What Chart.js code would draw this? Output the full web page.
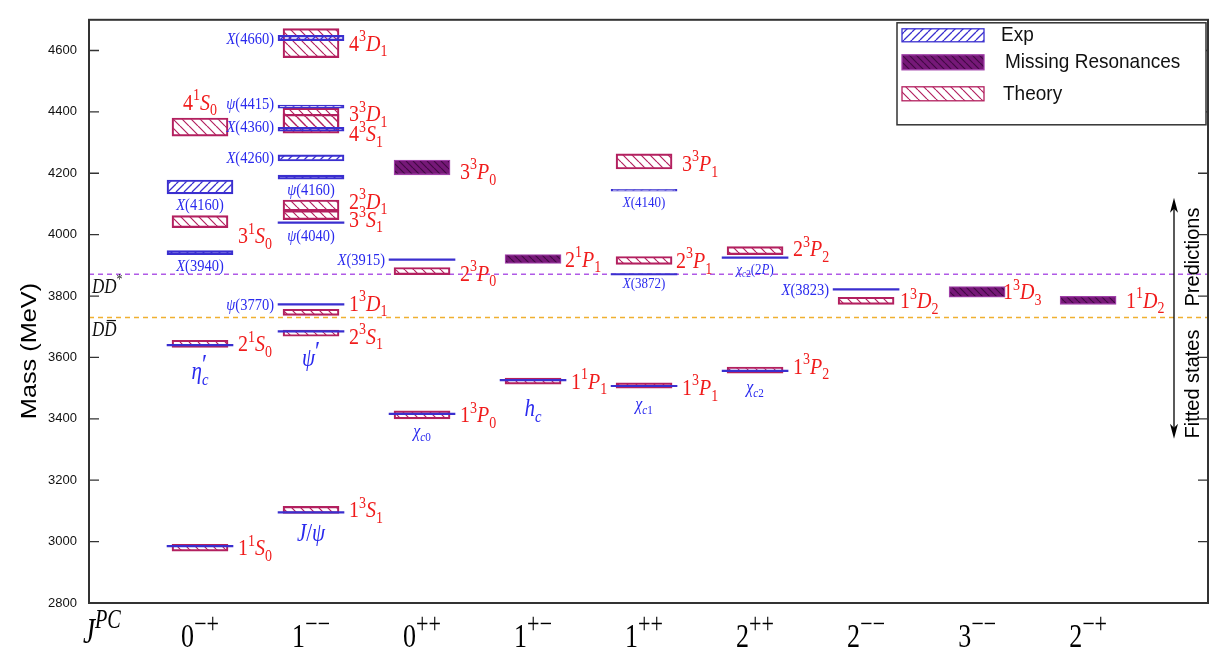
<!DOCTYPE html>
<html>
<head>
<meta charset="utf-8">
<script src="https://cdn.jsdelivr.net/npm/chart.js@4.4.1/dist/chart.umd.min.js"></script>
<style>
  html, body { margin: 0; padding: 0; background: #fff; overflow: hidden; }
</style>
</head>
<body>
<canvas id="spectrum" width="1211" height="667"></canvas>
<script>
// J^PC columns along the bottom
const jpcLabels = ['0^{−+}', '1^{−−}', '0^{++}', '1^{+−}', '1^{++}', '2^{++}', '2^{−−}', '3^{−−}', '2^{−+}'];
const massMin = 2800, massMax = 4700, massStep = 200;

// theory bands (MeV)
const theoryNames = ['1^1S_0', '2^1S_0', '3^1S_0', '4^1S_0', '1^3S_1', '2^3S_1', '1^3D_1', '3^3S_1', '2^3D_1', '4^3S_1', '3^3D_1', '4^3D_1', '1^3P_0', '2^3P_0', '1^1P_1', '1^3P_1', '2^3P_1', '3^3P_1', '1^3P_2', '2^3P_2', '1^3D_2'];
const theoryCol  = [1, 1, 1, 1, 2, 2, 2, 2, 2, 2, 2, 2, 3, 3, 4, 5, 5, 5, 6, 6, 7];
const theoryLow  = [2969, 3633, 4023, 4321, 3092, 3669, 3737, 4049, 4078, 4331, 4344, 4577, 3400, 3870, 3513, 3500, 3903, 4214, 3549, 3935, 3773];
const theoryHigh = [2991, 3656, 4062, 4380, 3115, 3689, 3757, 4078, 4113, 4392, 4412, 4671, 3426, 3893, 3533, 3517, 3929, 4263, 3569, 3961, 3796];

// predicted states without an experimental candidate
const missingNames = ['3^3P_0', '2^1P_1', '1^3D_3', '1^1D_2'];
const missingCol  = [3, 4, 8, 9];
const missingLow  = [4195, 3906, 3796, 3773];
const missingHigh = [4243, 3935, 3831, 3799];

// experimental states drawn with their width
const expNames = ['X(3940)', 'X(4160)', 'X(4660)', 'ψ(4415)', 'X(4360)', 'X(4260)', 'ψ(4160)', 'X(4140)'];
const expCol  = [1, 1, 2, 2, 2, 2, 2, 5];
const expLow  = [3935, 4133, 4632, 4412, 4337, 4240, 4181, 4142];
const expHigh = [3948, 4178, 4649, 4422, 4350, 4260, 4194, 4148];

// narrow experimental states (single lines)
const lineNames = ['', 'η^{′}_c', 'J/ψ', 'ψ^{′}', 'ψ(3770)', 'ψ(4040)', 'χ_{c0}', 'X(3915)', 'h_c', 'χ_{c1}', 'X(3872)', 'χ_{c2}', 'χ_{c2}(2P)', 'X(3823)'];
const lineCol  = [1, 1, 2, 2, 2, 2, 3, 3, 4, 5, 5, 6, 6, 7];
const lineMass = [2985, 3640, 3095, 3685, 3773, 4039, 3416, 3919, 3526, 3507, 3871, 3556, 3925, 3822];

// open charm thresholds
const thresholdNames = ['DD^*', 'DD\u0304'];
const thresholdMass = [3871, 3730];

const BLUE = '#3a2fcf', BLUE_TXT = '#2a2aee', RED_TXT = '#f01c1c';
const CRIMSON = '#b3205f', PURPLE = '#761878';

// where labels go when not the default spot
const labelTweaks = {
  '3^1S_0': { dy: 14 }, '4^1S_0': { side: 'a', dy: -25 }, '2^3S_1': { dy: 3 },
  '1^3D_1': { dy: -9 }, '4^3S_1': { dy: 10 }, '3^3D_1': { dy: -5 }, '2^3D_1': { dy: -4 }, '3^3S_1': { dy: 4 },
  '2^3P_0': { dy: 2 }, '1^3P_1': { dy: 2 }, '2^3P_1': { dx: -6 }, '3^3P_1': { dy: 2 },
  '1^3P_2': { dy: -4 }, '2^3P_2': { dy: -2 }, '1^3D_2': { dx: -4 },
  '3^3P_0': { dy: 4 }, '2^1P_1': { dx: -6 }, '1^3D_3': { dx: -12 },
  'X(4660)': { side: 'l' }, 'ψ(4415)': { side: 'l', dy: -3 }, 'X(4360)': { side: 'l', dy: -3 },
  'X(4260)': { side: 'l' }, 'ψ(3770)': { side: 'l' }, 'X(3915)': { side: 'l' }, 'X(3823)': { side: 'l' },
  'ψ(4160)': { dy: 12 }, 'X(4160)': { dy: 18 }, 'X(3940)': { dy: 13 }, 'ψ(4040)': { dy: 13 },
  'X(4140)': { dy: 12, size: 13 }, 'X(3872)': { dy: 9, size: 13 }, 'χ_{c2}(2P)': { dy: 11, size: 13 },
  'η^{′}_c': { dy: 26, size: 21 }, 'ψ^{′}': { dy: 27, size: 21 }, 'J/ψ': { dy: 21, size: 21 }, 'h_c': { dy: 28, size: 21 },
  'χ_{c0}': { dy: 17, size: 16 }, 'χ_{c1}': { dy: 18, size: 16 }, 'χ_{c2}': { dy: 16, size: 16 }
};

const canvas = document.getElementById('spectrum');
const ctx = canvas.getContext('2d');

function hatch(stroke, dir, fill, n, lw) {
  const c = document.createElement('canvas');
  c.width = n; c.height = n;
  const g = c.getContext('2d');
  if (fill) { g.fillStyle = fill; g.fillRect(0, 0, n, n); }
  g.strokeStyle = stroke;
  g.lineWidth = lw;
  g.beginPath();
  for (const o of [-n, 0, n]) {
    if (dir > 0) { g.moveTo(o, n); g.lineTo(o + n, 0); }
    else { g.moveTo(o, 0); g.lineTo(o + n, n); }
  }
  g.stroke();
  return ctx.createPattern(c, 'repeat');
}

const expHatch = hatch(BLUE, 1, null, 8, 1.3);
const theoryHatch = hatch(CRIMSON, -1, null, 9, 1.2);
const missingHatch = hatch('#420a44', -1, PURPLE, 7, 1.2);

// tiny TeX-ish text: ^{..} superscript, _{..} subscript, letters italic
function mathRuns(s) {
  const runs = [];
  let i = 0;
  while (i < s.length) {
    const c = s[i];
    if (c === '^' || c === '_') {
      let t;
      if (s[i + 1] === '{') { const j = s.indexOf('}', i); t = s.slice(i + 2, j); i = j + 1; }
      else { t = s[i + 1]; i += 2; }
      runs.push({ t, lvl: c === '^' ? 1 : -1 });
    } else {
      let j = i;
      while (j < s.length && s[j] !== '^' && s[j] !== '_') j++;
      runs.push({ t: s.slice(i, j), lvl: 0 });
      i = j;
    }
  }
  return runs;
}

function fontFor(ch, size) {
  const ital = /[A-Za-zα-ωΑ-Ω]/.test(ch);
  return (ital ? 'italic ' : '') + size + 'px "Liberation Serif"';
}

function drawMath(c, str, x, y, o) {
  const size = o.size, sx = o.sx || 1, sy = o.sy || 1.15, sup = o.sup || 0.7;
  const glyphs = [];
  let cur = 0, prev = null;
  for (const run of mathRuns(str)) {
    const s = run.lvl ? size * sup : size;
    const dy = run.lvl === 1 ? -size * 0.42 : run.lvl === -1 ? size * 0.24 : 0;
    const start = (run.lvl && prev && prev.lvl === -run.lvl) ? prev.start : cur;
    let gx = start;
    for (const ch of Array.from(run.t)) {
      if (ch === '\u0304') { if (glyphs.length) glyphs[glyphs.length - 1].bar = true; continue; }
      const gs = ch === '′' ? s * 1.6 : s;
      const font = fontFor(ch, gs);
      c.font = font;
      const w = c.measureText(ch).width;
      glyphs.push({ ch, font, x: gx, y: ch === '′' ? dy + s * 0.25 : dy, w, s: gs });
      gx += w;
    }
    cur = Math.max(cur, gx);
    prev = { lvl: run.lvl, start };
  }
  let x0 = x;
  if (o.align === 'center') x0 = x - cur * sx / 2;
  else if (o.align === 'right') x0 = x - cur * sx;
  const base = o.base ? y : y + size * 0.33 * sy;
  c.save();
  c.translate(x0, base);
  c.scale(sx, sy);
  c.fillStyle = o.color;
  c.textAlign = 'left';
  c.textBaseline = 'alphabetic';
  for (const g of glyphs) {
    c.font = g.font;
    c.fillText(g.ch, g.x, g.y);
    if (g.bar) c.fillRect(g.x + g.w * 0.2, g.y - g.s * 0.8, g.w * 0.75, Math.max(1, g.s * 0.055));
  }
  c.restore();
}

function bars(cols, lows, highs) {
  return cols.map((col, i) => ({ x: col, y: [lows[i], highs[i]] }));
}
function segments(cols, masses, half) {
  const pts = [];
  cols.forEach((col, i) => {
    pts.push({ x: col - half, y: masses[i] }, { x: col + half, y: masses[i] }, { x: col, y: null });
  });
  return pts;
}

const X_MAX = 10.08;

const labelSets = [
  { names: theoryNames, cols: theoryCol, mid: i => (theoryLow[i] + theoryHigh[i]) / 2, side: 'r', color: RED_TXT, size: 20 },
  { names: missingNames, cols: missingCol, mid: i => (missingLow[i] + missingHigh[i]) / 2, side: 'r', color: RED_TXT, size: 20 },
  { names: expNames, cols: expCol, mid: i => (expLow[i] + expHigh[i]) / 2, side: 'b', color: BLUE_TXT, size: 14.5 },
  { names: lineNames, cols: lineCol, mid: i => lineMass[i], side: 'b', color: BLUE_TXT, size: 14.5 }
];

const decorations = {
  id: 'decorations',
  afterDatasetsDraw(chart) {
    const c = chart.ctx, ca = chart.chartArea;
    const xs = chart.scales.x, ys = chart.scales.y;

    // frame and inner ticks
    c.save();
    c.strokeStyle = '#333';
    c.lineWidth = 2;
    c.strokeRect(ca.left, ca.top, ca.right - ca.left, ca.bottom - ca.top);
    c.lineWidth = 1.3;
    c.beginPath();
    for (let v = massMin + massStep; v < massMax; v += massStep) {
      const py = ys.getPixelForValue(v);
      c.moveTo(ca.left, py); c.lineTo(ca.left + 10, py);
      c.moveTo(ca.right, py); c.lineTo(ca.right - 10, py);
    }
    c.stroke();
    c.restore();

    // state labels
    for (const set of labelSets) {
      set.names.forEach((name, i) => {
        if (!name) return;
        const tw = labelTweaks[name] || {};
        const side = tw.side || set.side;
        const t = Object.assign({ side, dx: 0, dy: side === 'b' ? 13 : 0, size: set.size }, tw);
        const px = xs.getPixelForValue(set.cols[i]);
        const py = ys.getPixelForValue(set.mid(i)) + t.dy;
        const o = { size: t.size, color: set.color };
        if (t.side === 'r') drawMath(c, name, px + 38 + t.dx, py, Object.assign(o, { align: 'left' }));
        else if (t.side === 'l') drawMath(c, name, px - 37 + t.dx, py, Object.assign(o, { align: 'right' }));
        else drawMath(c, name, px + t.dx, py, Object.assign(o, { align: 'center' }));
      });
    }

    // threshold names
    thresholdNames.forEach((name, i) => {
      drawMath(c, name, ca.left + 3, ys.getPixelForValue(thresholdMass[i]) + 12, { size: 17, color: '#111', align: 'left', sy: 1.2 });
    });

    // J^PC row
    drawMath(c, 'J^{PC}', ca.left - 6, 643, { size: 27, color: '#000', align: 'left', base: true, sy: 1.3, sup: 0.75 });
    jpcLabels.forEach((lab, k) => {
      drawMath(c, lab, xs.getPixelForValue(k + 1), 647, { size: 26, color: '#000', align: 'center', base: true, sy: 1.3, sup: 0.85 });
    });

    // axis title
    c.save();
    c.translate(30, 351);
    c.rotate(-Math.PI / 2);
    c.scale(1.15, 1);
    c.font = '22px "Liberation Sans"';
    c.fillStyle = '#000';
    c.textAlign = 'center';
    c.textBaseline = 'middle';
    c.fillText('Mass (MeV)', 0, 0);
    c.restore();

    // predictions / fitted states arrow
    const ax = ca.right - 34;
    const top = ys.getPixelForValue(4120), bot = ys.getPixelForValue(3335);
    c.save();
    c.strokeStyle = '#000';
    c.fillStyle = '#000';
    c.lineWidth = 1.3;
    c.beginPath(); c.moveTo(ax, top + 4); c.lineTo(ax, bot - 4); c.stroke();
    c.beginPath(); c.moveTo(ax, top); c.lineTo(ax - 4, top + 15); c.lineTo(ax, top + 11); c.lineTo(ax + 4, top + 15); c.closePath(); c.fill();
    c.beginPath(); c.moveTo(ax, bot); c.lineTo(ax - 4, bot - 15); c.lineTo(ax, bot - 11); c.lineTo(ax + 4, bot - 15); c.closePath(); c.fill();
    c.font = '20px "Liberation Sans"';
    c.textAlign = 'center';
    c.textBaseline = 'middle';
    c.translate(ca.right - 15, 0);
    c.rotate(-Math.PI / 2);
    c.fillText('Predictions', -257, 0);
    c.fillText('Fitted states', -384, 0);
    c.restore();
  },
  afterDraw(chart) {
    const c = chart.ctx, ca = chart.chartArea;
    const lx = ca.right - 311, ly = ca.top + 3, lw = 309, lh = 102;
    c.save();
    c.fillStyle = '#fff';
    c.fillRect(lx, ly, lw, lh);
    c.strokeStyle = '#333';
    c.lineWidth = 1.5;
    c.strokeRect(lx, ly, lw, lh);
    const items = [
      { text: 'Exp', fill: expHatch, edge: BLUE, y: 6, h: 13, tx: 104 },
      { text: 'Missing Resonances', fill: missingHatch, edge: '#a040a8', y: 32, h: 15, tx: 108 },
      { text: 'Theory', fill: theoryHatch, edge: CRIMSON, y: 64, h: 14, tx: 106 }
    ];
    for (const it of items) {
      c.fillStyle = it.fill;
      c.fillRect(lx + 5, ly + it.y, 82, it.h);
      c.strokeStyle = it.edge;
      c.lineWidth = 1.3;
      c.strokeRect(lx + 5, ly + it.y, 82, it.h);
      c.save();
      c.translate(lx + it.tx, ly + it.y + it.h / 2);
      c.scale(1, 1.1);
      c.fillStyle = '#111';
      c.font = '19px "Liberation Sans"';
      c.textBaseline = 'middle';
      c.fillText(it.text, 0, 0);
      c.restore();
    }
    c.restore();
  }
};

new Chart(ctx, {
  type: 'bar',
  data: {
    datasets: [
      {
        type: 'line', label: 'Exp lines', data: segments(lineCol, lineMass, 0.3),
        borderColor: BLUE, borderWidth: 2.2, pointRadius: 0, spanGaps: false, fill: false, order: 0
      },
      {
        label: 'Exp', data: bars(expCol, expLow, expHigh), backgroundColor: expHatch,
        borderColor: BLUE, borderWidth: 1.5, borderSkipped: false, barThickness: 66, grouped: false, order: 1
      },
      {
        label: 'Missing Resonances', data: bars(missingCol, missingLow, missingHigh), backgroundColor: missingHatch,
        borderColor: '#a040a8', borderWidth: 1.3, borderSkipped: false, barThickness: 56, grouped: false, order: 2
      },
      {
        label: 'Theory', data: bars(theoryCol, theoryLow, theoryHigh), backgroundColor: theoryHatch,
        borderColor: CRIMSON, borderWidth: 1.5, borderSkipped: false, barThickness: 56, grouped: false, order: 3
      },
      {
        type: 'line', label: thresholdNames[0],
        data: [{ x: 0, y: thresholdMass[0] }, { x: X_MAX, y: thresholdMass[0] }],
        borderColor: '#b05ae6', borderWidth: 1.5, borderDash: [5, 4], pointRadius: 0, order: 4
      },
      {
        type: 'line', label: thresholdNames[1],
        data: [{ x: 0, y: thresholdMass[1] }, { x: X_MAX, y: thresholdMass[1] }],
        borderColor: '#f0b030', borderWidth: 1.5, borderDash: [5, 4], pointRadius: 0, order: 4
      }
    ]
  },
  options: {
    responsive: false,
    animation: false,
    layout: { padding: { left: 0, right: 3, top: 17, bottom: 64 } },
    plugins: { legend: { display: false }, tooltip: { enabled: false } },
    scales: {
      x: { type: 'linear', min: 0, max: X_MAX, offset: false, display: false },
      y: {
        type: 'linear', min: massMin, max: massMax, beginAtZero: false,
        ticks: {
          stepSize: massStep, padding: 12, color: '#111',
          font: { family: 'Liberation Sans', size: 13 },
          callback: v => String(v)
        },
        afterBuildTicks: s => { s.ticks = s.ticks.filter(t => t.value % massStep === 0); },
        afterFit: s => { s.width = 89; },
        grid: { drawOnChartArea: false, drawTicks: false },
        border: { display: false }
      }
    }
  },
  plugins: [decorations]
});
</script>
</body>
</html>
